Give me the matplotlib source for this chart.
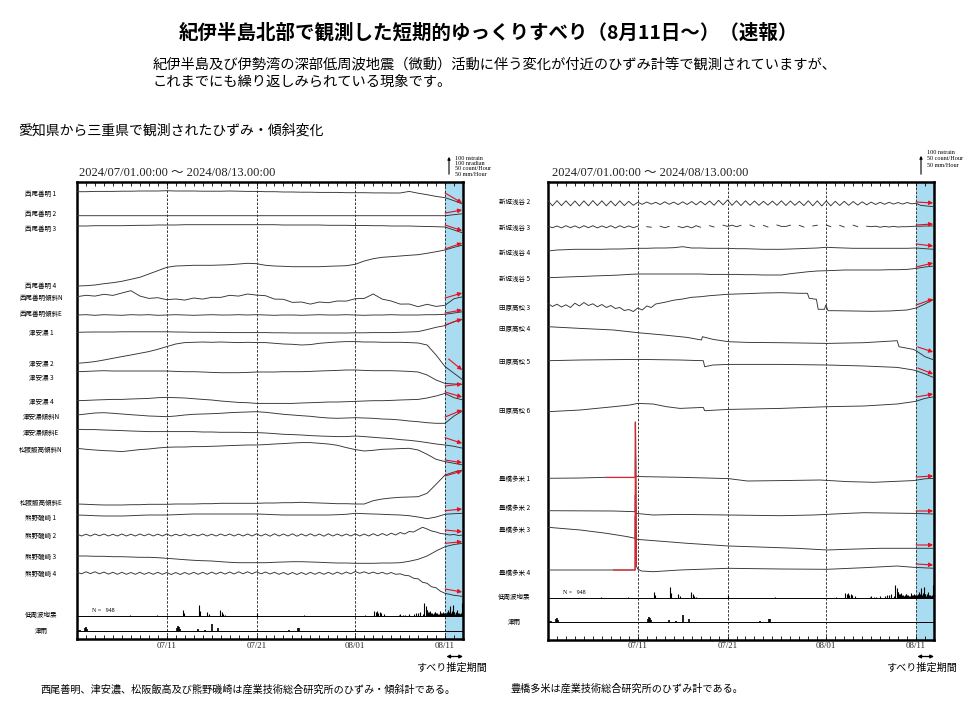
import numpy as np
import matplotlib
matplotlib.use('Agg')
import matplotlib.pyplot as plt

plt.rcParams['font.family'] = ['Noto Sans CJK JP', 'DejaVu Sans']

W, H = 970, 711
SERIF = ['Liberation Serif', 'Noto Sans CJK JP']

# ------------------------------------------------------------------ data
# time axis: days since 2024/07/01 00:00 (ends 2024/08/13 00:00)
DAYS = list(range(44))
HALF_DAYS = [i / 2 for i in range(87)]
MAJOR_DAYS = [10, 20, 31, 41]
MAJOR_LABELS = ['07/11', '07/21', '08/01', '08/11']
SLIP_START, SLIP_END = 41, 43

# trace offsets; 23 units = 100 nstrain / nradian (scale bar)
nishio1 = [0, 0, 0.3, 0.3, 0.3, 0.5, 0.5, 0.7, 0.7, 0.7,
           1, 0.7, 0.7, 0.7, 0.5, 0.5, 0.5, 0.7, 0.5, 0.3,
           0.3, 0, 0, -0.3, -0.3, -0.5, -0.5, -0.7, -0.7, -0.7,
           -1, -1, -1, -1.2, -1.2, -1.3, -1.3, 0.3, -1.5, -3,
           -4.7, -6, -9, -12.5]
nishio2 = [0, 0, 0, 0, 0, 0, 0, 0, 0, 0,
           0, 0, 0, 0, 0, 0, 0, 0, 0, 0,
           0, 0, 0, 0, 0, 0, 0, 0, 0, 0,
           0, 0, 0, 0, 0, 0, 0, 0, 0, 0,
           0, 0, 1, 2]
nishio3 = [0, 0, 0.3, 0.3, 0.3, 0.3, 0.5, 0.7, 0.7, 1,
           1, 1, 1.3, 1.3, 1.3, 1.3, 1.3, 1.3, 1.3, 1.3,
           1.3, 1.3, 1.3, 1, 1, 1, 1, 1, 0.7, 0.7,
           0.7, 0.5, 0.5, 0.3, 0.3, 0, 0, 0, -0.3, -0.5,
           -0.7, -1, -4, -7]
nishio4 = [0, 0.3, 1, 2.3, 3.3, 4.7, 6.7, 8.7, 12, 15.3,
           18.7, 20, 20.3, 20.7, 20.7, 20.7, 21, 21.3, 22, 22.7,
           22.3, 20.7, 20, 19.7, 19.3, 19.3, 19.3, 19.3, 19.7, 20,
           20.3, 21.7, 25, 27.3, 28.7, 29.3, 30, 30.7, 31.3, 32.7,
           34.3, 36, 38.7, 41]
nishio_tilt_n = [0, 1.4, 0.6, 2.4, 1.3, 3.7, 6, 0.7, -1.7, -1,
                 -3, -2.3, -3.4, -1.3, -2.4, -0.6, -0.7, 1.4, 0.6, 2.7,
                 1.6, 1, -2.4, -2.6, -5.7, -5.3, -7.4, -5.3, -6, -4.3,
                 -4.4, -2, -1.7, 2.7, -2.4, -4.3, -7.4, -7.3, -10, -7.6,
                 -9.7, -8.6, -2, 0]
nishio_tilt_e = [0, 0.3, -0.3, 0.3, 0, -0.3, 0.3, 0, 0.3, -0.3,
                 0, 0.3, 0, -0.3, 0, 0.3, 0, 0, 0.3, 0,
                 0.3, 0, -0.3, 0, 0, -0.3, 0, 0.3, 0, 0,
                 0.3, 0, -0.3, 0, 0, 0.3, 0, 0, 0, 0.3,
                 0.3, 0.7, 2, 3.3]
tsuano1 = [0, 0.2, 0.3, 0.3, 0.3, 0.5, 0.5, 0.5, 0.5, 0.5,
           0.5, 0.3, 0.2, 0, 0, 0, -0.2, -0.3, -0.3, -0.3,
           -0.3, -0.3, -0.5, -0.5, -0.7, -0.7, -0.7, -0.7, -0.7, -0.7,
           -0.7, -0.5, -0.5, -0.3, -0.3, -0.3, 0, 0.3, 0.7, 2.7,
           5, 6.7, 10.7, 13]
tsuano2 = [0, 0.7, 1.7, 3.3, 5, 6.7, 8.3, 10, 11.7, 14,
           16.7, 19.3, 20.7, 21, 21.3, 21, 21.3, 21, 20.7, 21,
           20.7, 20.7, 20, 19.3, 19, 18.3, 18.7, 20, 20.7, 21.3,
           21.7, 21.7, 21.3, 21.3, 21, 21, 21, 20.7, 20.3, 18.3,
           8.3, -3.3, -10, -16.7]
tsuano3 = [0, 0.3, 0.7, 1, 0.7, 0.7, 0.7, 0.7, 0.7, 0.7,
           0.7, 0.3, 0, 0, -0.3, -0.7, -1, -1, -1, -0.7,
           -0.3, -0.3, -0.3, 0, 0, 0, 0.3, 0.7, 1, 1.3,
           1.7, 1.7, 1.3, 1, 1, 1, 0.7, 0.3, -0.3, -3.3,
           -8.3, -11.7, -12.3, -12.7]
tsuano4 = [0, 0.3, 0.7, 1, 1.3, 1.3, 1.7, 2, 2.3, 3,
           3.3, 3, 2.7, 2, 1.3, 0.7, -0.3, -1, -1.7, -2,
           -2.7, -2.7, -2.7, -2.7, -2.7, -2.3, -2, -1.7, -1.3, -1.3,
           -1, -0.7, -0.3, 0, 0, 0.3, 0.7, 1, 1.3, 2.7,
           4.7, 7.3, 3, 0.7]
tsuano_tilt_n = [0, 1, 2, 2.3, 1.7, 1, 0.3, -0.3, -1, -1.3,
                 -1.7, -1, 0, 0.7, 1, 1.3, 1.7, 2.3, 2.7, 3,
                 3.3, 2.7, 1.7, 0.7, 0, -0.7, -1.3, -2.3, -3, -3.3,
                 -3, -2.7, -3, -3.3, -4, -4.3, -5, -6, -6.7, -7.7,
                 -8.3, -8.3, -1, 4.3]
tsuano_tilt_e = [0, -0.3, -0.3, -0.7, -1, -1.3, -1.7, -2, -2.3, -2.3,
                 -2.3, -2.3, -2.3, -2.3, -2.7, -2.7, -3, -3, -3, -3.3,
                 -3.3, -3.7, -4.3, -5, -5.3, -5.7, -6.3, -6.7, -7, -7.3,
                 -7.3, -6.7, -7.3, -8, -8.7, -9.3, -10.3, -11, -12, -13.3,
                 -14.7, -15.7, -17, -19]
matsusaka_tilt_n = [0, -1, -1.7, -2.3, -2.7, -3.3, -2.3, -1.3, -0.7, 0.3,
                    1, 1.3, 1.3, 1.7, 1.7, 2, 2.3, 2.7, 3, 3.3,
                    3.3, 3.7, 4.3, 4.7, 5.3, 5.7, 5.7, 5, 4.3, 3,
                    0.7, -1.3, -2.7, -2, -1, -0.7, -0.3, 0, -1.7, -6,
                    -11, -13.3, -15, -16.7]
matsusaka_tilt_e = [0, -0.3, -0.7, -1, -1, -1, -0.7, -0.7, -0.3, -0.3,
                    -0.3, 0, 0, 0, 0.3, 0.3, 0.7, 0.7, 0.7, 0.7,
                    0.7, 1, 1, 1.3, 1.3, 1.7, 1.3, 1, 0.7, 0.3,
                    0.3, 0, 0, 3.3, 5, 6, 6.7, 7, 7.3, 10.7,
                    19.7, 29, 32, 34]
kumano1 = [0, -0.3, -0.7, -1, -1, -1, -0.7, -0.3, 0, 0,
           0, 0.3, 0.7, 1, 1, 1, 1, 1, 1, 1,
           1, 0.7, 0.3, 0, 0, 0, 0, 0, 0, 0.3,
           0.7, 1.7, 1.3, 1, 0.7, 0.3, 0, -0.7, -2, -3.7,
           -2, 0.7, 1.3, 1.7]
kumano2 = [1, -1, 0.8, -1, 1, -0.8, 1, -1, 0.7, -1, 1, -1, 0.8, -1, 1, -0.8, 1, -1, 0.9, -1,
           1, -1, 0.8, -0.8, 1, -1, 0.7, -0.9, 1, -1, 0.8, -1, 1, -0.8, 1, -1, 0.9, -1, 1, -1,
           1.2, -1, 1, -1.2, 1.2, -1, 1, -1, 1.2, -1.2, 1, -1, 1.2, -1, 1, -1.2, 1.2, -1, 1, -1,
           1, -1, 1.2, -1, 1, -1, 1.3, -0.8, 1.5, -0.5, 1.8, 0,
           2.5, 1, 3.5, 3, 5.5, 7.7, 6, 4, 3, 1.5, 1, 0, 0.5, -0.5, 0]
kumano3 = [0, 0, -0.3, -0.3, -0.7, -0.7, -1, -1.3, -1.3, -1.7,
           -2.3, -3, -3.7, -4.3, -4.7, -5, -5.7, -6.3, -6.7, -6.7,
           -6.7, -6.7, -6.3, -6, -5.7, -5.7, -6, -6.3, -6.7, -7,
           -7, -7.3, -7.3, -7.3, -7, -7, -6.7, -5.3, -3.3, 0,
           5, 9.3, 11.5, 12.7]
kumano4 = [1, -0.5, 1.5, -0.3, 1.5, -0.5, 1.2, -0.8, 1, -1, 1, -1, 0.8, -1, 1, -1, 0.8, -1, 1, -1,
           0.8, -1.2, 0.8, -1.2, 0.8, -1, 1, -1, 1, -1, 1.2, -0.8, 1.2, -0.8, 1.3, -0.7, 1.5, -0.5, 1.5, -0.5,
           1.5, -0.5, 1.3, -0.7, 1, -1, 0.8, -1.2, 0.8, -1.2, 0.8, -1.2, 1, -1, 1, -1, 1, -1, 1.2, -0.8,
           1.3, -0.5, 1.8, 0, 1.5, -0.3, 1.2, -0.5, 1, -0.8, 0.8, -1,
           -0.5, -2, -2.5, -5, -5.5, -9, -10, -13.5, -14.5, -18, -20, -21, -22, -22.5, -23.3]

shinshiro2 = [2.5, -2.5, 2.7, -2.3, 2.5, -2.5, 2.3, -2.7, 2.5, -2.5, 2.7, -2.3, 2.5, -2.5, 2.3, -2.5, 2.5, -2.3, 2, -2,
              1, -1, 1.3, -0.8, 1, -1.2, 1.5, -1, 1.2, -1.3, 1.5, -1.2, 1.8, -1.5, 2, -1.5, 2.3, -2, 3, -1.5,
              3.3, -2, 2.5, -2.3, 2.5, -2, 2.3, -2, 2, -1.8, 2.2, -2, 2.5, -2.2, 2.3, -2, 2, -2.3, 2.5, -2.5,
              2.5, -2.7, 2.3, -2.5, 2, -2.2, 2, -2, 1.8, -1.8, 1.5, -1.5,
              1.2, -1.2, 1, -1, 1, -0.8, 0.8, -0.8, 0.8, -0.5, 0, -2, -2.5, -3, -3.3]
nan = float('nan')
shinshiro3 = [0.5, -1, 0.7, -1.2, 1, -1, 0.8, -1.3, 1, -1, 1, -1.2, 0.8, -1, 1, -1.3, 1, -1, 0.8, -1,
              0.5, nan, 0, -0.5, nan, 0.5, -1, 0.3, nan, 0.3, -1, 0.5, -1.2, 1, -0.5, nan, 1, -0.3, nan, 1.5,
              0.3, 1.5, 0, 1.3, nan, 1.7, 0, nan, 1.3, -0.3, nan, 1.7, 0.3, 0.3, 1.5, nan, 1.3, -0.3, nan, 0.7,
              1.5, nan, 1.7, 0, nan, 1.3, -0.3, nan, 1.5, 0, nan, 0.5,
              0, 0.5, -0.5, 0.3, -0.3, 0.3, -0.3, 0, 0, 0.3, 0.5, 0.5, 0.7, 0.7, 0.8]
shinshiro4 = [-1, 0, 0.3, 0.7, 0.7, 0.7, 0.7, 1, 1, 1.3,
              1.7, 1.7, 2, 2, 2.3, 3.3, 2, 2, 1.7, 1.7,
              1.7, 1.3, 1.3, 1, 0.7, 0.7, 0.7, 1, 1.3, 1.7,
              2, 2.7, 2.3, 2, 1.7, 1.7, 1.7, 1.7, 1.7, 1.7,
              1.7, 2, 1.3, 0.7]
shinshiro5 = [0, 0.3, 0.7, 1, 1.3, 1.7, 2, 2.3, 2.7, 3.3,
              3.7, 3.7, 3.7, 3.7, 3.7, 3.7, 3.7, 3.7, 3.3, 3.3,
              3.3, 3.3, 3, 3, 2.7, 2.7, 2.7, 4, 5, 6,
              6.7, 7, 7.3, 7.7, 7.7, 7.7, 7.7, 7.7, 8, 8,
              8.3, 9.3, 10.7, 11.7]
tahara3_t = [0, 0.5, 1, 1.5, 2, 2.5, 3, 3.5, 4, 4.5, 5, 5.5, 6, 6.5, 7, 7.5, 8, 8.5, 9, 9.5,
             10, 10.5, 11, 11.5, 12, 13, 14, 15, 16, 17, 18, 19, 20, 22, 24, 26, 28,
             28.9, 29.1, 29.9, 30.1, 30.8, 30.95, 31.2, 32, 34, 36, 38, 40, 41, 42, 42.5, 43]
tahara3_v = [1.5, -1.5, 0.8, -2, 0.2, -2.5, 1.8, -1, 2.5, -0.5, 1.2, -1.8, 0.5, -2.5, -0.5, -3.5, -2.5, -5.5, -4.5, -6.5,
             -3, -5, -1, -2.5, 1, 2.7, 4.8, 6, 7.7, 8.3, 9.3, 10, 10.7, 11.3, 12, 12.3, 11.7,
             11.7, 6.7, 5.7, -4.3, -4.3, 0, -5.7, -5.7, -6, -6.3, -6, -5, -3, 1, 3.5, 5.5]
tahara4_t = [0, 3.6, 7.3, 10, 12.9, 15.5, 17.1, 17.2, 18.4, 20.1, 22.2, 25.9, 31.1, 35.2, 38.9, 39.1, 40.7, 41, 42, 43]
tahara4_v = [0, -1.7, -3.3, -6, -8.3, -10.7, -13.3, -10, -12.7, -15, -15.7, -16, -16.7, -16, -14, -20, -22.7, -24, -30, -33.3]
tahara5_t = [0, 3.6, 10, 14.7, 17.3, 17.45, 18.4, 20.1, 25.9, 31.1, 35.2, 38.9, 40.7, 41, 42, 43]
tahara5_v = [0, 0.7, 1.3, 0.7, 0, -6, -4.3, -3.7, -3.7, -4.3, -5.3, -6.7, -9.3, -10, -13.3, -17]
tahara6_t = [0, 3.6, 7.3, 9.1, 10, 11.7, 13.2, 14.7, 17.3, 17.45, 20.1, 25.9, 31.1, 35.2, 38.9, 40.7, 41, 42, 43]
tahara6_v = [0, 1.7, 5, 6.7, 8.3, 7.7, 5, 3.3, 4.3, 1, 2.3, 3.3, 5, 5.7, 7.7, 10, 10.5, 13.3, 15]
toyo1_t = [0, 3.6, 6.5, 9.7, 9.72, 9.78, 10.2, 14.7, 20.1, 22.2, 25.9, 30.3, 33.3, 36.3, 40.7, 42, 43]
toyo1_v = [0, 0.3, 1, 1, 56, 2, 1.7, 1, -0.3, -2.7, -2.3, -1.7, -3.3, -4, -2.3, -0.5, 0]
toyo2_t = [0, 7.3, 9.7, 9.72, 9.8, 11.7, 14.7, 20.1, 25.9, 29.6, 33.3, 35.2, 40.7, 43]
toyo2_v = [0, -0.3, -1, 15.7, -2.7, -4.3, -3.7, -4.3, -5, -4.3, -2.7, -2, -2.7, -3.3]
toyo3_t = [0, 3.6, 6.5, 8.8, 9.7, 9.72, 9.8, 11.7, 15.5, 20.1, 22.2, 27.7, 31.1, 33.3, 37, 43]
toyo3_v = [0, -2.7, -6, -9.3, -11, 10.7, -12, -13.3, -16, -18.7, -19.3, -21, -22.7, -22, -21, -21]
toyo4_t = [0, 3.6, 7.3, 9.7, 9.75, 9.85, 10.0, 10.4, 11.7, 14.7, 20.1, 25.9, 31.1, 35.2, 38.9, 40.7, 43]
toyo4_v = [0, 0, 0, 0, 148, 4, 1, -1, -1.7, 0, 1.7, 1, 0.7, 2.3, 4, 2.7, 1.7]

# low-frequency earthquakes (count/hour) and Tsu rain (mm/hour)
eq_days = [5.91, 8.88, 11.78, 11.97, 13.60, 13.75, 14.50, 14.68, 15.95, 16.10,
           16.28, 16.54, 20.04, 25.24, 32.12, 33.12, 33.27, 33.42, 33.57, 33.72,
           33.87, 34.16, 35.84, 36.02, 36.32, 36.58, 36.95, 37.51, 37.81, 37.99,
           38.18, 38.55, 38.70, 38.85, 38.95, 39.03, 39.10, 39.18, 39.27, 39.37,
           39.46, 39.55, 39.65, 39.74, 39.83, 39.93, 40.02, 40.11, 40.20, 40.30,
           40.39, 40.48, 40.56, 40.63, 40.70, 40.78, 40.88, 40.97, 41.06, 41.15,
           41.22, 41.30, 41.38, 41.45, 41.52, 41.60, 41.68, 41.75, 41.83, 41.90,
           41.97, 42.04, 42.12, 42.19, 42.27, 42.34, 42.42, 42.53, 42.62, 42.70,
           42.78, 42.86, 42.95]
eq_counts = [2, 1.5, 13, 6, 24, 11, 9, 4, 13, 9,
             4, 2, 6, 1.5, 2, 11, 9, 11, 7, 9,
             6, 4, 3, 4, 2, 3, 4, 4, 7, 6,
             9, 5, 28, 22, 12, 13, 8, 9, 7, 11,
             6, 7, 5, 6, 8, 9, 6, 7, 5, 4,
             6, 10, 6, 7, 5, 9, 6, 6, 5, 7,
             9, 14, 6, 9, 8, 22, 7, 11, 6, 25,
             8, 9, 5, 6, 8, 14, 6, 7, 5, 4,
             6, 28, 10]
EQ_TOTAL = 948
rain_days = [0.15, 0.33, 0.89, 1.00, 1.15, 11.12, 11.23, 11.38, 11.49, 13.53,
             14.28, 15.09, 15.76, 23.57, 24.57, 24.68]
rain_mm = [2, 3, 6, 9, 4, 7, 11, 9, 4, 4, 2, 16, 7, 2, 6, 7]

for arr in [nishio1, nishio2, nishio3, nishio4, nishio_tilt_n, nishio_tilt_e, tsuano1, tsuano2,
            tsuano3, tsuano4, tsuano_tilt_n, tsuano_tilt_e, matsusaka_tilt_n, matsusaka_tilt_e,
            kumano1, kumano3, shinshiro4, shinshiro5]:
    assert len(arr) == len(DAYS), len(arr)
for arr in [kumano2, kumano4, shinshiro2, shinshiro3]:
    assert len(arr) == len(HALF_DAYS), len(arr)
assert len(eq_days) == len(eq_counts) and len(rain_days) == len(rain_mm)

# ------------------------------------------------------------------ layout
# (label, times, values, trace px, label px, arrow start/end offsets, arrow start day, red range)
left_traces = [
    ('西尾善明 1', DAYS, nishio1, 191.7, 194, (-1.3, -11.3), 41.0, None),
    ('西尾善明 2', DAYS, nishio2, 215.7, 214, (2.7, 5.7), 41.0, None),
    ('西尾善明 3', DAYS, nishio3, 226.0, 229, (1, -4.7), 41.0, None),
    ('西尾善明 4', DAYS, nishio4, 286.0, 286, (37, 43), 41.0, None),
    ('西尾善明傾斜N', DAYS, nishio_tilt_n, 296.7, 298, (-1.3, 3.7), 41.0, None),
    ('西尾善明傾斜E', DAYS, nishio_tilt_e, 315.0, 314, (2, 5), 41.0, None),
    ('津安濃 1', DAYS, tsuano1, 332.3, 333, (7.3, 13.3), 41.0, None),
    ('津安濃 2', DAYS, tsuano2, 363.3, 364, (4.3, -6.7), 41.4, None),
    ('津安濃 3', DAYS, tsuano3, 371.7, 378, (-14.3, -12.3), 41.0, None),
    ('津安濃 4', DAYS, tsuano4, 400.7, 402, (8.7, 3.7), 41.0, None),
    ('津安濃傾斜N', DAYS, tsuano_tilt_n, 415.0, 417, (-2, 5), 41.0, None),
    ('津安濃傾斜E', DAYS, tsuano_tilt_e, 429.3, 433, (-8.4, -14), 41.0, None),
    ('松阪飯高傾斜N', DAYS, matsusaka_tilt_n, 448.3, 450, (-11.7, -14.4), 41.0, None),
    ('松阪飯高傾斜E', DAYS, matsusaka_tilt_e, 504.0, 503, (28, 33), 41.0, None),
    ('熊野磯崎 1', DAYS, kumano1, 515.0, 518, (4.3, 6), 41.0, None),
    ('熊野磯崎 2', HALF_DAYS, kumano2, 535.0, 536, (5, 3.3), 41.0, None),
    ('熊野磯崎 3', DAYS, kumano3, 556.0, 557, (12.7, 14.3), 41.0, None),
    ('熊野磯崎 4', HALF_DAYS, kumano4, 573.3, 574, (-15.7, -18.7), 41.0, None),
]
right_traces = [
    ('新城浅谷 2', HALF_DAYS, shinshiro2, 203.3, 202, (1.3, 0.3), 41.0, None),
    ('新城浅谷 3', HALF_DAYS, shinshiro3, 226.7, 228, (1.7, 2.7), 41.0, None),
    ('新城浅谷 4', DAYS, shinshiro4, 250.0, 253, (6, 4), 41.0, None),
    ('新城浅谷 5', DAYS, shinshiro5, 277.7, 279, (10.7, 14.7), 41.0, None),
    ('田原高松 3', tahara3_t, tahara3_v, 305.0, 308, (0, 6), 41.0, None),
    ('田原高松 4', tahara4_t, tahara4_v, 326.7, 329, (-20.3, -25.3), 41.2, None),
    ('田原高松 5', tahara5_t, tahara5_v, 360.7, 362, (-7.3, -13.3), 41.2, None),
    ('田原高松 6', tahara6_t, tahara6_v, 411.7, 411, (14.7, 17.7), 41.0, None),
    ('豊橋多米 1', toyo1_t, toyo1_v, 478.3, 479, (1.3, 2.3), 41.0, (6.5, 9.7)),
    ('豊橋多米 2', toyo2_t, toyo2_v, 510.7, 508, (-0.3, -0.3), 41.0, None),
    ('豊橋多米 3', toyo3_t, toyo3_v, 527.3, 530, (-17.7, -17.7), 41.0, None),
    ('豊橋多米 4', toyo4_t, toyo4_v, 570.0, 573, (6, 5), 41.0, (7.3, 9.85)),
]

panels = [
    dict(box=(77, 182, 463, 639), traces=left_traces, eq_px=616, rain_px=631,
         eq_label=615, rain_label=631, label_x=41, n_px=(92, 610),
         scale_x=449, scale_y=(154, 177),
         scale_text=['100 nstrain', '100 nradian', '50 count/Hour', '50 mm/Hour'],
         scale_text_y=[158.5, 163.5, 169, 175], header_x=79),
    dict(box=(548, 182, 934, 640), traces=right_traces, eq_px=598, rain_px=622,
         eq_label=597, rain_label=622, label_x=514.5, n_px=(563, 592),
         scale_x=921, scale_y=(153, 177),
         scale_text=['100 nstrain', '50 count/Hour', '50 mm/Hour'],
         scale_text_y=[152.5, 159, 165.5], header_x=552),
]

TRACE_COLOR = '#333333'
BAR_SCALE = 23 / 50.0   # px per count/hour (or mm/hour)

fig = plt.figure(figsize=(W / 100, H / 100), dpi=100)


def fx(x):
    return x / W


def fy(y):
    return 1 - y / H


for p in panels:
    x0, y0, x1, y1 = p['box']
    ax = fig.add_axes([fx(x0), fy(y1), (x1 - x0) / W, (y1 - y0) / H])
    ax.set_xlim(0, 43)
    ax.set_ylim(0, y1 - y0)
    ax.set_yticks([])
    ax.set_xticks(MAJOR_DAYS)
    ax.set_xticklabels(MAJOR_LABELS, fontfamily=SERIF, fontsize=6.3, color='#222222')
    ax.set_xticks(DAYS, minor=True)
    ax.tick_params(axis='x', which='both', direction='in', top=True, bottom=True,
                   length=3, width=0.6, pad=1.8)
    for s in ax.spines.values():
        s.set_linewidth(1.8)
    ax.axvspan(SLIP_START, SLIP_END, color='#a9dcf1', lw=0, zorder=0)
    for d in MAJOR_DAYS:
        ax.axvline(d, color='#333333', lw=0.7, ls=(0, (2.5, 1.6)), zorder=1)

    def ypos(px):
        return y1 - px

    for (name, t, v, base_px, lab_px, arr, arr_x0, red) in p['traces']:
        base = ypos(base_px)
        tt = np.array(t, dtype=float)
        vv = np.array(v, dtype=float)
        ax.plot(tt, base + vv, color=TRACE_COLOR, lw=0.65, zorder=3)
        if red is not None:
            m = (tt >= red[0]) & (tt <= red[1])
            ax.plot(tt[m], base + vv[m], color='#e8202a', lw=0.8, zorder=4)
        ax.annotate('', xy=(42.9, base + arr[1]), xytext=(arr_x0, base + arr[0]),
                    arrowprops=dict(arrowstyle='-|>', color='#e8101c', lw=0.8,
                                    mutation_scale=6, shrinkA=0, shrinkB=0),
                    zorder=5, annotation_clip=False)
        fig.text(fx(p['label_x']), fy(lab_px), name, fontsize=4.7, ha='center', va='center')

    # low-frequency earthquakes
    eb = ypos(p['eq_px'])
    ax.axhline(eb, color='k', lw=0.7, zorder=2)
    ax.vlines(eq_days, eb, eb + np.array(eq_counts) * BAR_SCALE, color='k', lw=0.8, zorder=3)
    fig.text(fx(p['label_x']), fy(p['eq_label']), '低周波地震', fontsize=4.7, ha='center', va='center')
    fig.text(fx(p['n_px'][0]), fy(p['n_px'][1]), 'N =   %d' % EQ_TOTAL, fontsize=4.3,
             fontfamily=SERIF, ha='left', va='center')
    # rain
    rb = ypos(p['rain_px'])
    ax.axhline(rb, color='k', lw=0.7, zorder=2)
    ax.vlines(rain_days, rb, rb + np.array(rain_mm) * BAR_SCALE, color='k', lw=1.2, zorder=3)
    fig.text(fx(p['label_x']), fy(p['rain_label']), '津雨', fontsize=4.7, ha='center', va='center')

    # slip period double arrow
    ya = (y1 - 656.5) / (y1 - y0)
    ax.annotate('', xy=(43, ya), xytext=(41.15, ya), xycoords=ax.get_xaxis_transform(),
                arrowprops=dict(arrowstyle='<|-|>', color='k', lw=0.9, mutation_scale=5,
                                shrinkA=0, shrinkB=0), annotation_clip=False)

    # header
    fig.text(fx(p['header_x']), fy(173), '2024/07/01.00:00 ～ 2024/08/13.00:00',
             fontfamily=SERIF, fontsize=9, ha='left', va='center', color='#222222')
    # scale bar
    sx = p['scale_x']
    fig.add_artist(matplotlib.patches.FancyArrowPatch(
        (fx(sx), fy(p['scale_y'][1])), (fx(sx), fy(p['scale_y'][0])),
        transform=fig.transFigure, arrowstyle='-|>', mutation_scale=4, lw=0.8, color='k'))
    for txt, ty in zip(p['scale_text'], p['scale_text_y']):
        fig.text(fx(sx + 6), fy(ty), txt, fontfamily=SERIF, fontsize=4.4, ha='left', va='center')

fig.text(fx(452), fy(668), 'すべり推定期間', fontsize=7.3, ha='center', va='center')
fig.text(fx(922), fy(668), 'すべり推定期間', fontsize=7.3, ha='center', va='center')

fig.text(fx(488), fy(33), '紀伊半島北部で観測した短期的ゆっくりすべり（8月11日～）（速報）',
         fontsize=14, fontweight='bold', ha='center', va='center')
fig.text(fx(153), fy(64), '紀伊半島及び伊勢湾の深部低周波地震（微動）活動に伴う変化が付近のひずみ計等で観測されていますが、',
         fontsize=10.3, ha='left', va='center')
fig.text(fx(153), fy(82), 'これまでにも繰り返しみられている現象です。', fontsize=10.3, ha='left', va='center')
fig.text(fx(18), fy(131), '愛知県から三重県で観測されたひずみ・傾斜変化', fontsize=10, ha='left', va='center')
fig.text(fx(40), fy(690), '西尾善明、津安濃、松阪飯高及び熊野磯崎は産業技術総合研究所のひずみ・傾斜計である。',
         fontsize=7.3, ha='left', va='center')
fig.text(fx(510), fy(689), '豊橋多米は産業技術総合研究所のひずみ計である。',
         fontsize=7.3, ha='left', va='center')

fig.savefig('out.png', dpi=100)
